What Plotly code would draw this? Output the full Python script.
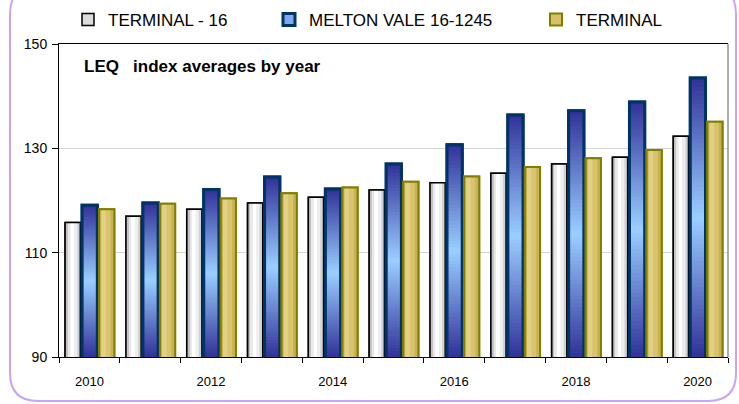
import plotly.graph_objects as go

# data
years = [2010, 2011, 2012, 2013, 2014, 2015, 2016, 2017, 2018, 2019, 2020]
terminal_16 = [115.8, 117.0, 118.3, 119.5, 120.6, 122.0, 123.4, 125.2, 127.0, 128.3, 132.3]
melton_vale = [119.1, 119.5, 122.1, 124.5, 122.2, 127.0, 130.7, 136.4, 137.2, 138.9, 143.5]
terminal = [118.3, 119.4, 120.4, 121.4, 122.5, 123.6, 124.6, 126.4, 128.1, 129.7, 135.1]
names = ["TERMINAL - 16", "MELTON VALE 16-1245", "TERMINAL"]

FONT = "Liberation Sans, Arial, sans-serif"
W, H = 739, 404
Y0 = 90
BW = 0.25  # bar width in year units

fig = go.Figure()


def lerp(c1, c2, t):
    a = [int(c1[i:i + 2], 16) for i in (1, 3, 5)]
    b = [int(c2[i:i + 2], 16) for i in (1, 3, 5)]
    return "#%02x%02x%02x" % tuple(round(a[k] + (b[k] - a[k]) * t) for k in range(3))


def series(name, vals, off, legend, icon, line_color, line_w, hstrips=None, vgrad=None):
    # base fill, also used for the legend icon
    fig.add_trace(go.Bar(x=years, y=vals, name=name, offset=off, width=BW,
                         marker=dict(color=icon, line=dict(color=line_color, width=line_w)),
                         legend=legend, hoverinfo="skip"))
    # horizontal shading strips
    for f0, f1, col in hstrips or []:
        fig.add_trace(go.Bar(x=years, y=vals, offset=off + f0 * BW, width=(f1 - f0) * BW,
                             marker=dict(color=col, line=dict(width=0)),
                             showlegend=False, hoverinfo="skip"))
    # vertical shading: dark at the ends, light in the middle
    if vgrad:
        dark, light, n = vgrad
        for k in range(n):
            t = 0.5 * k / n
            fig.add_trace(go.Bar(x=years, y=[(1 - 2 * t) * (v - Y0) for v in vals],
                                 base=[Y0 + t * (v - Y0) for v in vals],
                                 offset=off, width=BW,
                                 marker=dict(color=lerp(dark, light, k / (n - 1)), line=dict(width=0)),
                                 showlegend=False, hoverinfo="skip"))
    # outline on top
    fig.add_trace(go.Bar(x=years, y=vals, offset=off, width=BW,
                         marker=dict(color="rgba(0,0,0,0)", line=dict(color=line_color, width=line_w)),
                         showlegend=False, hoverinfo="skip"))


series(names[0], terminal_16, -0.40, "legend", "#dcdcdc", "#000000", 1.5,
       hstrips=[(0.0, 0.10, "#9a9a9a"), (0.10, 0.22, "#c4c4c4"), (0.22, 0.34, "#e8e8e8"),
                (0.34, 0.60, "#ffffff"), (0.60, 0.80, "#eeeeee"), (0.80, 1.0, "#d2d2d2")])
series(names[1], melton_vale, -0.12, "legend2", "#7fa8ee", "#003366", 3,
       vgrad=("#333399", "#99ccff", 32))
series(names[2], terminal, 0.16, "legend3", "#d6c068", "#808000", 2,
       hstrips=[(0.0, 0.14, "#c6ae50"), (0.14, 0.45, "#e2d086"), (0.45, 0.75, "#d8c46c"),
                (0.75, 1.0, "#c8b254")])

# pixel -> paper helpers for decorations
PL, PR, PT, PB = 59, 728, 44, 357


def px(x):
    return (x - PL) / (PR - PL)


def py(y):
    return (PB - y) / (PB - PT)


# rounded lavender frame
L, R, T, B, r = 10, 736, -14, 401, 28
path = (f"M {px(L + r)},{py(T)} L {px(R - r)},{py(T)} Q {px(R)},{py(T)} {px(R)},{py(T + r)} "
        f"L {px(R)},{py(B - r)} Q {px(R)},{py(B)} {px(R - r)},{py(B)} "
        f"L {px(L + r)},{py(B)} Q {px(L)},{py(B)} {px(L)},{py(B - r)} "
        f"L {px(L)},{py(T + r)} Q {px(L)},{py(T)} {px(L + r)},{py(T)} Z")
fig.add_shape(type="path", path=path, xref="paper", yref="paper",
              line=dict(color="#c9a3f5", width=2), layer="below")
fig.add_shape(type="line", xref="paper", yref="paper", x0=1, x1=1, y0=0, y1=1,
              line=dict(color="#909090", width=1.5))

fig.add_annotation(text="LEQ\u00a0\u00a0\u00a0index averages by year", xref="paper", yref="paper",
                   x=px(82), y=py(66), xanchor="left", yanchor="middle", showarrow=False,
                   font=dict(family=FONT, size=17, color="black", weight="bold"))

leg = dict(orientation="h", yanchor="middle", xanchor="left", bgcolor="rgba(0,0,0,0)",
           xref="container", yref="container", y=1 - 20 / H,
           font=dict(family=FONT, size=17, color="black"), itemwidth=30)
fig.update_layout(
    width=W, height=H,
    margin=dict(l=PL, r=W - PR, t=PT, b=H - PB, autoexpand=False),
    barmode="overlay",
    plot_bgcolor="white", paper_bgcolor="white",
    font=dict(family=FONT, color="black"),
    legend=dict(leg, x=68 / W),
    legend2=dict(leg, x=269 / W),
    legend3=dict(leg, x=536 / W),
    xaxis=dict(range=[2009.5, 2020.5], tickvals=years[::2], ticks="", showgrid=False,
               showline=True, linecolor="black", linewidth=1, mirror=True, zeroline=False,
               tickfont=dict(size=13), ticklabelstandoff=12,
               minor=dict(ticks="outside", tick0=2009.5, dtick=1, ticklen=5,
                          tickcolor="black", showgrid=False)),
    yaxis=dict(range=[90, 150], tickvals=[90, 110, 130, 150], showgrid=True,
               gridcolor="#d4d4d4", showline=True, linecolor="black", linewidth=1,
               ticks="outside", ticklen=6, tickcolor="black", zeroline=False,
               tickfont=dict(size=14), ticklabelstandoff=2),
)

# drop the browser's default body margin so the figure sits at the page origin
fig.write_html("out.html", config={"displayModeBar": False},
               post_script="document.body.style.margin='0';")
